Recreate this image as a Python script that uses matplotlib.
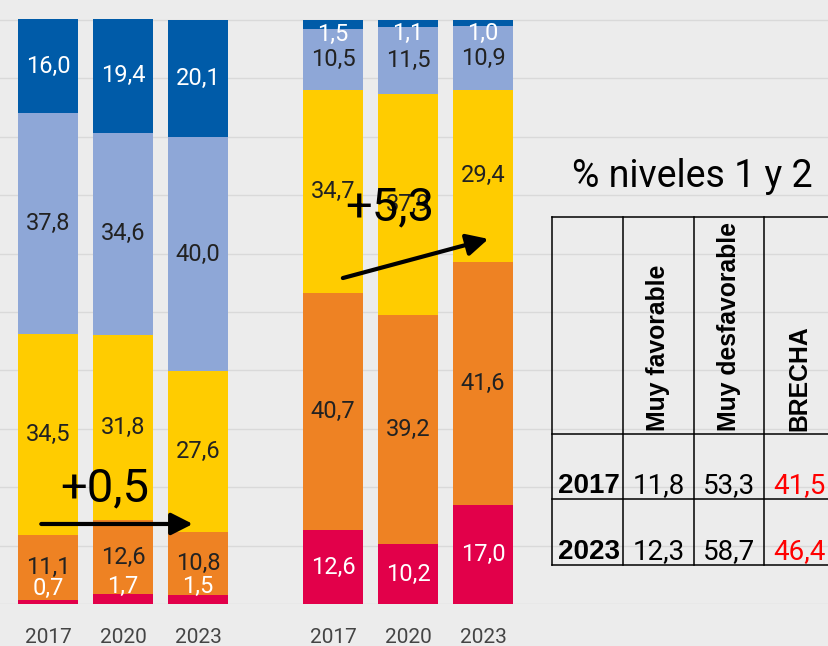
import numpy as np
import matplotlib
matplotlib.use('Agg')
import matplotlib.pyplot as plt
from matplotlib.lines import Line2D

plt.rcParams['font.family'] = ['Roboto', 'DejaVu Sans']

# data (bottom to top: red, orange, yellow, light blue, dark blue)
years = ['2017', '2020', '2023', '2017', '2020', '2023']
red = [0.7, 1.7, 1.5, 12.6, 10.2, 17.0]
orange = [11.1, 12.6, 10.8, 40.7, 39.2, 41.6]
yellow = [34.5, 31.8, 27.6, 34.7, 37.9, 29.4]
lightblue = [37.8, 34.6, 40.0, 10.5, 11.5, 10.9]
darkblue = [16.0, 19.4, 20.1, 1.5, 1.1, 1.0]

table_rows = ['2017', '2023']
muy_fav = [11.8, 12.3]
muy_desfav = [53.3, 58.7]
brecha = [41.5, 46.4]

series = [red, orange, yellow, lightblue, darkblue]
colors = ['#E2004A', '#EE8223', '#FFCC00', '#8EA7D7', '#005BA8']
txtcol = ['white', '#222222', '#222222', '#222222', 'white']

bg = '#ECECEC'
fig = plt.figure(figsize=(8.29, 6.46), dpi=100, facecolor=bg)
ax = fig.add_axes([0, 0.065, 1, 0.935], facecolor=bg)

x = np.concatenate([np.arange(3), np.arange(3) + 3.8])
bottom = np.zeros(len(x))
for k, (vals, c, tc) in enumerate(zip(series, colors, txtcol)):
    vals = np.array(vals)
    ax.bar(x, vals, bottom=bottom, width=0.8, color=c, zorder=2)
    for xi, b, v in zip(x, bottom, vals):
        lab = f'{v:.1f}'.replace('.', ',')
        dy = 0
        if v < 3:
            dy = 13 if k == 0 else -10
        ax.annotate(lab, (xi, b + v / 2), xytext=(0, dy), textcoords='offset pixels',
                    ha='center', va='center', fontsize=17, color=tc, zorder=3)
    bottom += vals

ax.set_xlim(-0.64, 10.41)
ax.set_ylim(0, 103.4)
ax.set_yticks(np.arange(0, 101, 10))
ax.yaxis.grid(True, color='#D9D9D9', lw=1.0, zorder=0)
ax.set_xticks(x)
ax.set_xticklabels(years, fontsize=15, color='#444444')
ax.tick_params(length=0, pad=17, labelleft=False)
for s in ax.spines.values():
    s.set_visible(False)

# change annotations
arr = dict(arrowstyle='-|>,head_length=0.65,head_width=0.33', lw=3, color='black',
           mutation_scale=20, shrinkA=0, shrinkB=0)
ax.annotate('', xy=(1.93, 13.7), xytext=(-0.09, 13.7), arrowprops=arr, zorder=5)
ax.annotate('', xy=(5.87, 62.5), xytext=(3.93, 55.8), arrowprops=arr, zorder=5)
ax.text(0.76, 17.5, '+0,5', fontsize=34, ha='center', va='baseline', zorder=5)
ax.text(4.55, 65.7, '+5,3', fontsize=34, ha='center', va='baseline', zorder=5)

# table
W, H = 829, 646
def fx(p):
    return p / W
def fy(p):
    return 1 - p / H

fig.text(fx(692), fy(187), '% niveles 1 y 2', fontsize=27, ha='center', va='baseline')
cols = [552, 623, 694, 764, 835]
rows = [217, 434, 499, 565]
for cx in cols:
    fig.add_artist(Line2D([fx(cx), fx(cx)], [fy(rows[0]), fy(rows[-1])], color='black', lw=1.1))
for ry in rows:
    fig.add_artist(Line2D([fx(cols[0]), fx(cols[-1])], [fy(ry), fy(ry)], color='black', lw=1.1))

hdrs = ['Muy favorable', 'Muy desfavorable', 'BRECHA']
for i, h in enumerate(hdrs):
    cx = (cols[i + 1] + cols[i + 2]) / 2
    fig.text(fx(cx), fy(rows[1] - 3), h, rotation=90, ha='center', va='bottom',
             fontsize=17.8, fontweight='bold', family='Liberation Sans')
for r, (yr, a, b, g) in enumerate(zip(table_rows, muy_fav, muy_desfav, brecha)):
    base = rows[r + 2] - 6
    fig.text(fx(cols[1] - 3), fy(base), yr, ha='right', va='baseline', fontsize=20,
             fontweight='bold', family='Liberation Sans')
    for i, (v, c) in enumerate(zip([a, b, g], ['black', 'black', 'red'])):
        cx = (cols[i + 1] + cols[i + 2]) / 2
        fig.text(fx(cx), fy(base), f'{v:.1f}'.replace('.', ','), ha='center',
                 va='baseline', fontsize=20, color=c)

fig.savefig('out.png', dpi=100, facecolor=bg)
